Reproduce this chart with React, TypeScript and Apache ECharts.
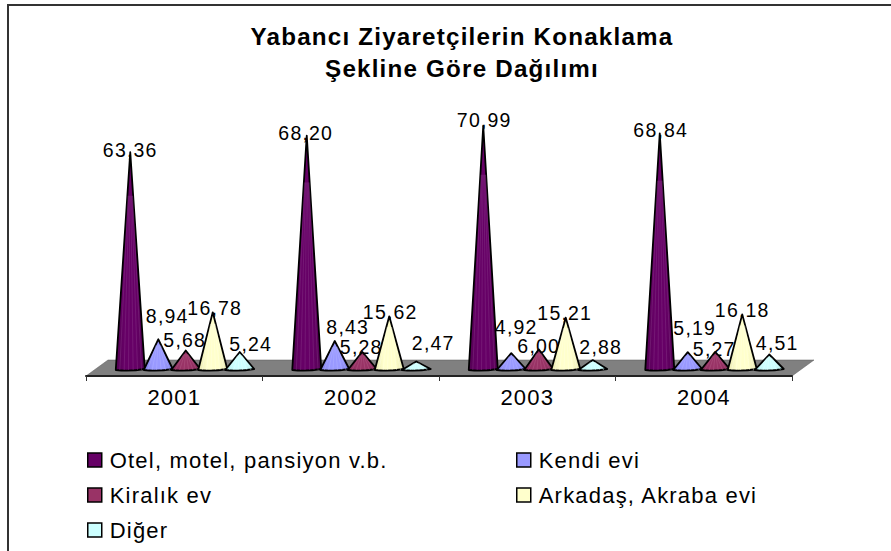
import React, { useEffect, useRef } from "react";
import * as echarts from "echarts";

const titleText = "Yabancı Ziyaretçilerin Konaklama\nŞekline Göre Dağılımı";
const years = ["2001", "2002", "2003", "2004"];
const otel = [63.36, 68.2, 70.99, 68.84];
const kendi = [8.94, 8.43, 4.92, 5.19];
const kiralik = [5.68, 5.28, 6.0, 5.27];
const arkadas = [16.78, 15.62, 15.21, 16.18];
const diger = [5.24, 2.47, 2.88, 4.51];

const names = ["Otel, motel, pansiyon v.b.", "Kendi evi", "Kiralık ev", "Arkadaş, Akraba evi", "Diğer"];
const allValues = [otel, kendi, kiralik, arkadas, diger];
const colors = ["#660066", "#9999ff", "#993366", "#ffffcc", "#ccffff"];
const shades = ["#520052", "#7f7fe0", "#7f2a55", "#e6e6b0", "#a8e0e0"];
const lights = ["#8a3a8a", "#b4b4ff", "#b5608a", "#ffffe6", "#e6ffff"];

// Horizontal shift of each cone from the band centre, px
const coneShift = [-44, -16, 11.5, 38.5, 65.5];
// Label displacement from each cone's apex [dx, dy] by series, then year
const labelShift = [
  [[0, -2], [-1, -3], [1, -6], [1, -3]],
  [[9, -23], [13, -14], [5, -26], [7, -24]],
  [[-1, -10], [-1, -5], [0, -3], [-1, -3]],
  [[2, -4], [1, -4], [-1, -5], [0, -4]],
  [[11, -8], [17, -19], [8, -13], [8, -11]],
];

const FONT = "'Liberation Sans', Arial, sans-serif";
const HALF = 14.5;

function coneRenderer(s: number) {
  return (params: any, api: any) => {
    const i = api.value(0);
    const v = api.value(1);
    const top = api.coord([i, v]);
    const base = api.coord([i, 0]);
    const x = top[0] + coneShift[s];
    const [dx, dy] = labelShift[s][i];
    const by = base[1];
    const conePath =
      `M${x} ${top[1]}L${x - HALF} ${by}Q${x} ${by + 1.5} ${x + HALF} ${by - 1}Z`;
    const stripeFracs = [-0.72, -0.42, -0.12, 0.2, 0.5, 0.78];
    const t = 0.2;
    const stripes = stripeFracs
      .map((f) => `M${x + f * HALF * t} ${top[1] + (by - top[1]) * t}L${x + f * HALF} ${by}`)
      .join("");
    return {
      type: "group",
      children: [
        {
          type: "text",
          style: {
            text: v.toFixed(2).replace(".", ","),
            x: x + dx,
            y: top[1] + dy,
            align: "center",
            verticalAlign: "middle",
            fontSize: 19.5,
            fontFamily: FONT,
            fill: "#000",
          },
        },
        {
          type: "path",
          shape: { pathData: conePath },
          style: {
            fill: new echarts.graphic.LinearGradient(0, 0, 1, 0, [
              { offset: 0, color: shades[s] },
              { offset: 0.3, color: colors[s] },
              { offset: 0.7, color: colors[s] },
              { offset: 1, color: shades[s] },
            ]),
            stroke: "#000",
            lineWidth: 1.8,
            lineJoin: "round",
          },
        },
        {
          type: "path",
          shape: { pathData: stripes },
          style: { fill: "none", stroke: lights[s], lineWidth: 0.7, opacity: 0.6 },
        },
      ],
    };
  };
}

function floorRenderer(params: any, api: any) {
  const c = params.coordSys;
  const y0 = c.y + c.height;
  const left = c.x;
  const right = c.x + c.width;
  return {
    type: "polygon",
    shape: {
      points: [
        [left, y0 + 6],
        [left + 22, y0 - 10],
        [right + 22, y0 - 10],
        [right, y0 + 6],
      ],
    },
    style: { fill: "#808080", stroke: "#5a5a5a", lineWidth: 0.5 },
  };
}

const legendBase = {
  orient: "vertical",
  top: 444,
  itemWidth: 14,
  itemHeight: 14,
  itemGap: 13,
  icon: "rect",
  itemStyle: { borderColor: "#000", borderWidth: 1.5 },
  textStyle: { fontFamily: FONT, fontSize: 22, color: "#000", padding: [0, 0, 0, 3] },
};

export default function App() {
  const ref = useRef<HTMLDivElement>(null);
  useEffect(() => {
    const chart = echarts.init(ref.current!, undefined, { renderer: "svg" });
    chart.setOption({
      animation: false,
      backgroundColor: "#fff",
      title: {
        text: titleText,
        left: 457,
        top: 15,
        textAlign: "center",
        textStyle: { fontFamily: FONT, fontWeight: "bold", fontSize: 24.2, lineHeight: 32, color: "#000" },
      },
      grid: { left: 86, width: 706, top: 95, height: 275 },
      xAxis: {
        type: "category",
        data: years,
        offset: 6,
        z: 10,
        boundaryGap: true,
        axisLine: { onZero: false, lineStyle: { color: "#222", width: 2 } },
        axisTick: { show: true, length: 5, alignWithLabel: false, lineStyle: { color: "#333", width: 1 } },
        axisLabel: { fontFamily: FONT, fontSize: 22, color: "#000", margin: 10 },
      },
      yAxis: { type: "value", min: 0, max: 80, show: false },
      legend: [
        { ...legendBase, left: 82, data: [names[0], names[2], names[4]] },
        { ...legendBase, left: 511, data: [names[1], names[3]] },
      ],
      series: [
        {
          type: "custom",
          name: "floor",
          silent: true,
          z: 1,
          renderItem: floorRenderer,
          data: [[0, 0]],
          encode: { x: 0, y: 1 },
        },
        ...names.map((name, s) => ({
          type: "custom",
          name,
          z: 3 + s,
          itemStyle: { color: colors[s] },
          renderItem: coneRenderer(s),
          data: allValues[s].map((v, i) => [i, v]),
          encode: { x: 0, y: 1 },
          clip: false,
        })),
      ],
      graphic: [
        {
          type: "polyline",
          silent: true,
          shape: { points: [[8, 551], [8, 5], [891, 5]] },
          style: { fill: "none", stroke: "#333", lineWidth: 2 },
        },
      ],
    });
    return () => chart.dispose();
  }, []);
  return (
    <div
      ref={ref}
      style={{ position: "fixed", left: 0, top: 0, width: 891, height: 551, letterSpacing: "1.2px" }}
    />
  );
}
